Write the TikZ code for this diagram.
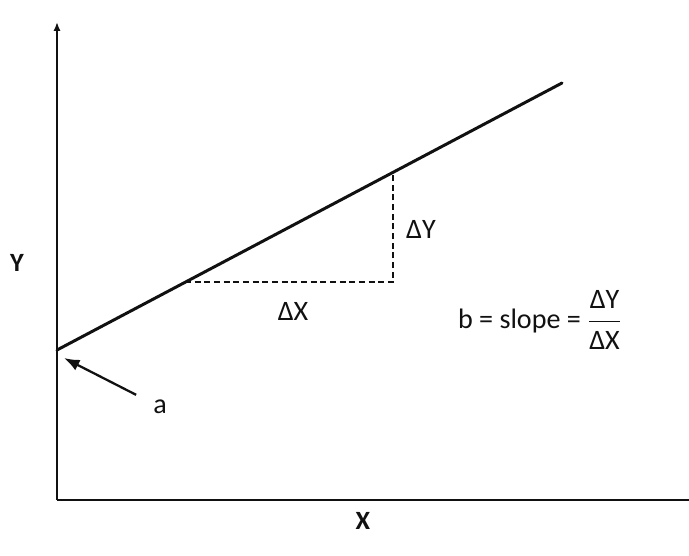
\documentclass[tikz,border=0pt]{standalone}
\usepackage{amsmath}
\usepackage{fontspec}
\setmainfont{Carlito}
\usepackage{tikz}
\usetikzlibrary{arrows.meta,positioning,calc}
\definecolor{Ink}{HTML}{111111}

\begin{document}
\begin{tikzpicture}[x=0.02cm,y=-0.02cm,>=Latex,
    axis/.style={line width=1.1pt,Ink},
    fitline/.style={line width=1.7pt,Ink},
    guide/.style={dash pattern=on 3.5pt off 2pt,line width=1.1pt,Ink},
    lbl/.style={font=\fontsize{16}{19}\selectfont,text=Ink},
    axislbl/.style={font=\fontsize{15}{18}\selectfont\bfseries,text=Ink}]
  \useasboundingbox (0,0) rectangle (689,555);
  % axes
  \coordinate (O) at (57,500);
  \coordinate (ytop) at (57,22);
  \coordinate (xend) at (689,500);
  \draw[axis,-{Latex[length=5pt,width=4pt]}] (O) -- (ytop);
  \draw[axis] (O) -- (xend);
  \node[axislbl] (ylbl) at (17,263) {Y};
  \node[axislbl] (xlbl) at (363,521) {X};
  % regression line
  \coordinate (a) at (57,350);
  \coordinate (lend) at (562,83);
  \draw[fitline,line cap=round] (a) -- (lend);
  \coordinate (p) at ($(a)!0.2535!(lend)$);
  \coordinate (q) at ($(a)!0.6653!(lend)$);
  \coordinate (r) at (q |- p);
  \draw[guide] (p) -- (r) -- (q);
  \node[lbl] (dx) at (293,311) {ΔX};
  \node[lbl] (dy) at (421,229) {ΔY};
  % slope and intercept
  \node[lbl] (slope) at (540,320) {b = slope = $\dfrac{\text{ΔY}}{\text{ΔX}}$};
  \node[lbl] (alabel) at (160,407) {a};
  \coordinate (atip) at (64,358);
  \draw[->,line width=1.3pt,Ink,shorten <=7pt] (alabel) -- (atip);
\end{tikzpicture}
\end{document}
